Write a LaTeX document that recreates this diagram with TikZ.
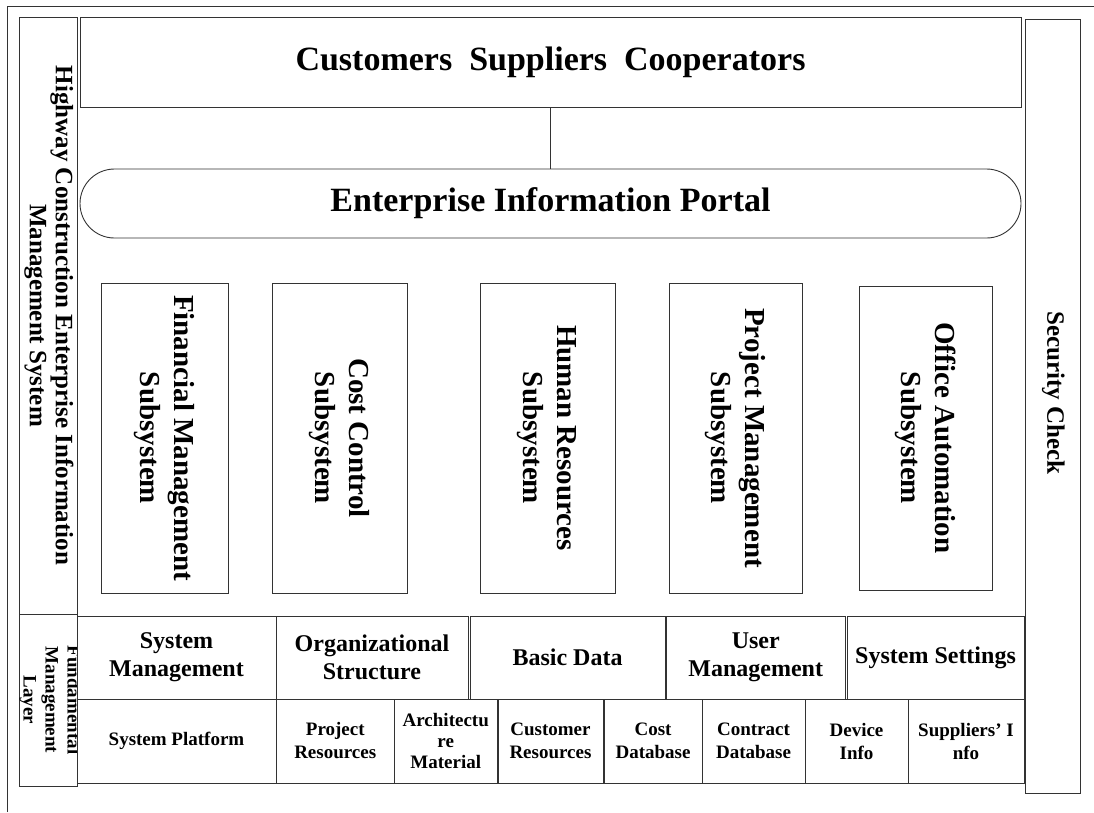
\documentclass[tikz,border=0pt]{standalone}
\usepackage{fontspec}
\setmainfont{Liberation Serif}
\usepackage{graphicx}
\newcommand\myvtext[1]{\rotatebox{-90}{\begin{tabular}{@{}c@{}}#1\end{tabular}}}
\begin{document}
\begin{tikzpicture}[x=1pt,y=-1pt,
  frame/.style={draw=black!80, line width=0.9pt},
  box/.style={draw=black!80, line width=0.9pt, inner sep=0pt, outer sep=0pt, align=center, text=black},
  big/.style={font=\bfseries\fontsize{34}{40}\selectfont},
  sub/.style={font=\bfseries\fontsize{29}{34}\selectfont},
  side/.style={font=\bfseries\fontsize{25}{26}\selectfont},
  rowa/.style={font=\bfseries\fontsize{24}{28}\selectfont},
  rowb/.style={font=\bfseries\fontsize{19}{23}\selectfont},
  rowc/.style={font=\bfseries\fontsize{19}{21}\selectfont},
]
\useasboundingbox (0,0) rectangle (1094,812);
% outer frame (only top and left edges visible)
\coordinate (fbl) at (7,812);
\coordinate (ftl) at (7,6);
\coordinate (ftr) at (1094,6);
\draw[frame] (fbl) -- (ftl) -- (ftr);

% left labels
\node[box, side, minimum width=58pt, minimum height=597pt] (hw) at (48,315.5)
  {\myvtext{Highway Construction Enterprise Information\\Management System}};
\node[box, minimum width=58pt, minimum height=172pt] (fml) at (48,700) {};
\begin{scope}
  \clip (fml.north west) rectangle (fml.south east);
  \node[font=\bfseries\fontsize{19}{22}\selectfont, inner sep=0pt] (fmlt) at (50,700)
    {\myvtext{Fundamental\\Management\\Layer}};
\end{scope}

% top
\node[box, big, minimum width=941pt, minimum height=90pt] (cust) at (550.5,62)
  {Customers\ \ Suppliers\ \ Cooperators};
\node[box, big, rounded corners=34.5pt, minimum width=941pt, minimum height=69pt] (portal) at (550.5,203.5)
  {Enterprise Information Portal};
\draw[frame] (cust.south) -- (portal.north);

% security
\node[box, minimum width=55pt, minimum height=774pt] (sec) at (1052.5,406) {};
\node[side, inner sep=0pt] (sect) at (1052.5,393) {\myvtext{Security Check}};

% subsystems
\node[box, sub, minimum width=127pt, minimum height=310pt] (fin) at (164.5,438)
  {\myvtext{Financial Management\\Subsystem}};
\node[box, sub, minimum width=135pt, minimum height=310pt] (cost) at (339.5,438)
  {\myvtext{Cost Control\\Subsystem}};
\node[box, sub, minimum width=135pt, minimum height=310pt] (hr) at (547.5,438)
  {\myvtext{Human Resources\\Subsystem}};
\node[box, sub, minimum width=133pt, minimum height=310pt] (pm) at (735.5,438)
  {\myvtext{Project Management\\Subsystem}};
\node[box, sub, minimum width=133pt, minimum height=304pt] (oa) at (925.5,438)
  {\myvtext{Office Automation\\Subsystem}};

% fundamental layer, row 1
\node[box, rowa, minimum width=199pt, minimum height=83pt] (sm) at (176.5,657.5) {System\\Management};
\node[box, rowa, minimum width=192pt, minimum height=83pt] (os) at (372,657.5) {Organizational\\Structure};
\node[box, rowa, minimum width=195pt, minimum height=83pt] (bd) at (567.5,657.5) {Basic Data};
\node[box, rowa, minimum width=178.5pt, minimum height=83pt] (um) at (755.75,657.5) {User\\Management};
\node[box, rowa, minimum width=177pt, minimum height=83pt] (ss) at (935.5,657.5) {System Settings};

% row 2
\node[box, rowb, minimum width=199pt, minimum height=84pt] (sp) at (176.5,741) {System Platform};
\node[box, rowb, minimum width=118.5pt, minimum height=84pt] (pr) at (335.25,741) {Project\\Resources};
\node[box, rowc, minimum width=102.5pt, minimum height=84pt] (am) at (445.75,741) {Architectu\\re\\Material};
\node[box, rowb, minimum width=105pt, minimum height=84pt] (cr) at (550.5,741) {Customer\\Resources};
\node[box, rowb, minimum width=98pt, minimum height=84pt] (cd) at (653,741) {Cost\\Database};
\node[box, rowb, minimum width=103pt, minimum height=84pt] (ctd) at (753.5,741) {Contract\\Database};
\node[box, rowb, minimum width=103pt, minimum height=84pt] (di) at (856.5,741) {Device\\Info};
\node[box, rowb, minimum width=116pt, minimum height=84pt] (si) at (966,741) {Suppliers’ I\\nfo};
\end{tikzpicture}
\end{document}
